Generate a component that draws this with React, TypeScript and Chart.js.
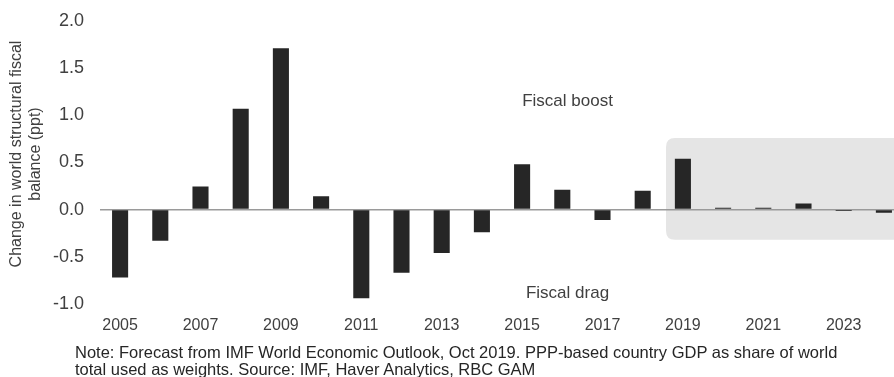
import React, { useEffect, useRef } from "react";
import { Chart, registerables } from "chart.js";

Chart.register(...registerables);

const years = ["2005","2006","2007","2008","2009","2010","2011","2012","2013","2014","2015","2016","2017","2018","2019","2020","2021","2022","2023","2024"];
const balanceChange = [-0.72,-0.33,0.245,1.07,1.71,0.14,-0.94,-0.67,-0.46,-0.24,0.48,0.21,-0.11,0.2,0.54,0.02,0.02,0.065,-0.015,-0.035];
const yTicks = [-1.0,-0.5,0.0,0.5,1.0,1.5,2.0];
const yAxisTitle = ["Change in world structural fiscal", "balance (ppt)"];
const forecastStartYear = "2019";
const forecastBox = { top: 0.76, bottom: -0.32 };
const annotations = [
  { text: "Fiscal boost", x: 11.13, y: 1.15 },
  { text: "Fiscal drag", x: 11.13, y: -0.89 },
];
const noteLines = [
  "Note: Forecast from IMF World Economic Outlook, Oct 2019. PPP-based country GDP as share of world",
  "total used as weights. Source: IMF, Haver Analytics, RBC GAM",
];

const FONT = "'Liberation Sans', Arial, sans-serif";

const overlayPlugin = {
  id: "overlay",
  beforeDraw(chart: any) {
    const { ctx, scales } = chart;
    const x = scales.x;
    const y = scales.y;
    const idx = years.indexOf(forecastStartYear);
    const step = x.getPixelForValue(1) - x.getPixelForValue(0);
    const left = x.getPixelForValue(idx) - step * 0.42;
    const right = chart.width + 20;
    const top = y.getPixelForValue(forecastBox.top);
    const bottom = y.getPixelForValue(forecastBox.bottom);
    const r = 9;
    ctx.save();
    ctx.fillStyle = "#e5e5e5";
    ctx.beginPath();
    ctx.moveTo(left + r, top);
    ctx.lineTo(right, top);
    ctx.lineTo(right, bottom);
    ctx.lineTo(left + r, bottom);
    ctx.quadraticCurveTo(left, bottom, left, bottom - r);
    ctx.lineTo(left, top + r);
    ctx.quadraticCurveTo(left, top, left + r, top);
    ctx.closePath();
    ctx.fill();
    ctx.restore();
  },
  afterDatasetsDraw(chart: any) {
    const { ctx, scales } = chart;
    ctx.save();
    ctx.fillStyle = "#404040";
    ctx.font = `17px ${FONT}`;
    ctx.textAlign = "center";
    ctx.textBaseline = "middle";
    const step = scales.x.getPixelForValue(1) - scales.x.getPixelForValue(0);
    for (const a of annotations) {
      const px = scales.x.getPixelForValue(0) + a.x * step;
      const py = scales.y.getPixelForValue(a.y);
      ctx.fillText(a.text, px, py);
    }
    // y-axis title (two lines, rotated)
    ctx.font = `16px ${FONT}`;
    ctx.translate(0, 154);
    ctx.rotate(-Math.PI / 2);
    ctx.fillText(yAxisTitle[0], 0, 17);
    ctx.fillText(yAxisTitle[1], 0, 36);
    ctx.restore();
  },
};

export default function App() {
  const ref = useRef<HTMLCanvasElement>(null);
  useEffect(() => {
    if (!ref.current) return;
    const chart = new Chart(ref.current, {
      type: "bar",
      data: {
        labels: years,
        datasets: [
          {
            data: balanceChange,
            backgroundColor: "#262626",
            barPercentage: 0.4,
            categoryPercentage: 1,
          },
        ],
      },
      options: {
        animation: false,
        responsive: false,
        maintainAspectRatio: false,
        layout: { padding: { top: 21, right: 0, bottom: 4, left: 0 } },
        plugins: { legend: { display: false }, tooltip: { enabled: false } },
        scales: {
          x: {
            grid: { display: false, drawTicks: false },
            border: { display: false },
            ticks: {
              autoSkip: false,
              maxRotation: 0,
              padding: 12,
              color: "#404040",
              font: { family: FONT, size: 16 },
              callback: (_v: any, i: number) => (i % 2 === 0 ? years[i] : ""),
            },
          },
          y: {
            min: yTicks[0],
            max: yTicks[yTicks.length - 1],
            afterBuildTicks: (scale: any) => {
              scale.ticks = yTicks.map((v) => ({ value: v }));
            },
            afterFit: (scale: any) => {
              scale.width = 100;
              scale.paddingTop = 0;
              scale.paddingBottom = 0;
            },
            grid: {
              drawTicks: false,
              color: (c: any) => (c.tick && c.tick.value === 0 ? "#9a9a9a" : "rgba(0,0,0,0)"),
              lineWidth: 1.5,
            },
            border: { display: false },
            ticks: {
              padding: 16,
              color: "#404040",
              font: { family: FONT, size: 18 },
              callback: (v: any) => Number(v).toFixed(1),
            },
          },
        },
      },
      plugins: [overlayPlugin],
    });
    return () => chart.destroy();
  }, []);

  return (
    <div style={{ position: "fixed", left: 0, top: 0, width: 894, height: 377, overflow: "hidden", background: "#fff" }}>
      <canvas ref={ref} width={904} height={351} style={{ position: "absolute", left: 0, top: 0, width: 904, height: 351 }} />
      <div
        style={{
          position: "absolute",
          left: 75,
          top: 344,
          fontFamily: FONT,
          fontSize: 16.5,
          lineHeight: "17px",
          color: "#262626",
          whiteSpace: "nowrap",
        }}
      >
        {noteLines.map((l, i) => (
          <div key={i}>{l}</div>
        ))}
      </div>
    </div>
  );
}
